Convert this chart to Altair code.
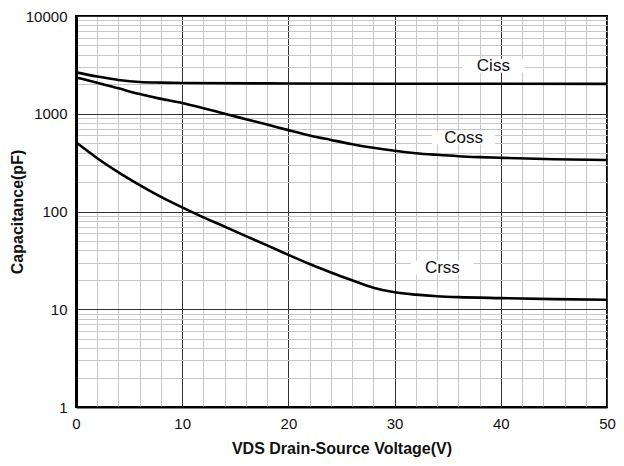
import altair as alt
import pandas as pd

# --- data ---
ciss_v = [0, 2, 4, 6, 8, 10, 20, 30, 40, 50]
ciss_c = [2650, 2400, 2215, 2110, 2080, 2065, 2040, 2030, 2025, 2020]

coss_v = [0, 2, 4, 6, 8, 10, 12, 14, 16, 18, 20, 22, 24, 26, 28, 30, 32, 34, 36, 38, 40, 45, 50]
coss_c = [2350, 2080, 1820, 1590, 1420, 1290, 1140, 1000, 880, 775, 680, 600, 540, 488,
          448, 418, 395, 380, 368, 360, 354, 343, 336]

crss_v = [0, 2, 4, 6, 8, 10, 12, 14, 16, 18, 20, 22, 24, 26, 28, 30, 32, 34, 36, 40, 45, 50]
crss_c = [510, 351, 251, 186, 141, 110, 87, 70, 56, 45, 36, 29.0, 23.8, 19.8, 16.6, 14.9,
          14.1, 13.6, 13.3, 13.0, 12.7, 12.5]

label_text = ["Ciss", "Coss", "Crss"]
label_v = [39.3, 36.5, 34.5]
label_c = [3100, 570, 26.7]

x_ticks = list(range(0, 51, 2))
y_ticks = [m * 10 ** e for e in range(0, 4) for m in range(1, 10)] + [10000]

rows = []
for name, vs, cs in [("Ciss", ciss_v, ciss_c), ("Coss", coss_v, coss_c), ("Crss", crss_v, crss_c)]:
    for v, c in zip(vs, cs):
        rows.append({"series": name, "V": v, "C": c})
df = pd.DataFrame(rows)
labels = pd.DataFrame({"text": label_text, "V": label_v, "C": label_c})

FONT = "Liberation Sans"
W, H = 531, 391

x_scale = alt.Scale(domain=[0, 50], nice=False, zero=False)
y_scale = alt.Scale(type="log", domain=[1, 10000], nice=False)

x_axis = alt.Axis(
    values=x_ticks,
    labelExpr="(round(datum.value) % 10 == 0) ? datum.label : ''",
    title="VDS Drain-Source Voltage(V)",
    grid=True,
    gridColor={"condition": {"test": "round(datum.value) % 10 == 0", "value": "#333333"}, "value": "#c8c8c8"},
    gridWidth=1,
    ticks=False,
    domainColor="black",
    domainWidth=2,
    labelFont=FONT, labelFontSize=15, labelColor="#111", labelPadding=9,
    titleFont=FONT, titleFontSize=16, titleFontWeight="bold", titleColor="#111", titlePadding=9,
    labelFlush=False, labelOverlap=False,
)

decade_test = "abs(log(datum.value)/LN10 - round(log(datum.value)/LN10)) < 0.000001"
y_axis = alt.Axis(
    values=y_ticks,
    labelExpr=f"({decade_test}) ? format(datum.value, 'd') : ''",
    title="Capacitance(pF)",
    grid=True,
    gridColor={"condition": {"test": decade_test, "value": "#333333"}, "value": "#c8c8c8"},
    gridWidth=1,
    ticks=False,
    domainColor="black",
    domainWidth=3,
    labelFont=FONT, labelFontSize=15, labelColor="#111", labelPadding=9,
    titleFont=FONT, titleFontSize=16, titleFontWeight="bold", titleColor="#111",
    titleX=-59, titleY=H / 2, titleAngle=270, titleAlign="center", titleBaseline="middle",
    labelFlush=False, labelOverlap=False,
)

X = alt.X("V:Q", scale=x_scale, axis=x_axis)
Y = alt.Y("C:Q", scale=y_scale, axis=y_axis)

lines = alt.Chart(df).mark_line(color="black", strokeWidth=2.6, interpolate="monotone").encode(
    x=X, y=Y, detail="series:N",
)

boxes = alt.Chart(labels).mark_point(
    shape="M-1,-0.22 H1 V0.22 H-1 Z", filled=True, fill="white", stroke=None, opacity=1, size=3969
).encode(x=X, y=Y)

texts = alt.Chart(labels).mark_text(font=FONT, fontSize=17, color="#111").encode(
    x=X, y=Y, text="text:N"
)

chart = alt.layer(lines, boxes, texts).properties(
    width=W, height=H,
    background="white",
    autosize=alt.AutoSizeParams(type="none"),
    padding={"left": 68, "top": 8, "right": 9, "bottom": 51},
).configure_view(stroke="black", strokeWidth=2)

chart.save("out.html", embed_options={"renderer": "svg", "actions": False})
